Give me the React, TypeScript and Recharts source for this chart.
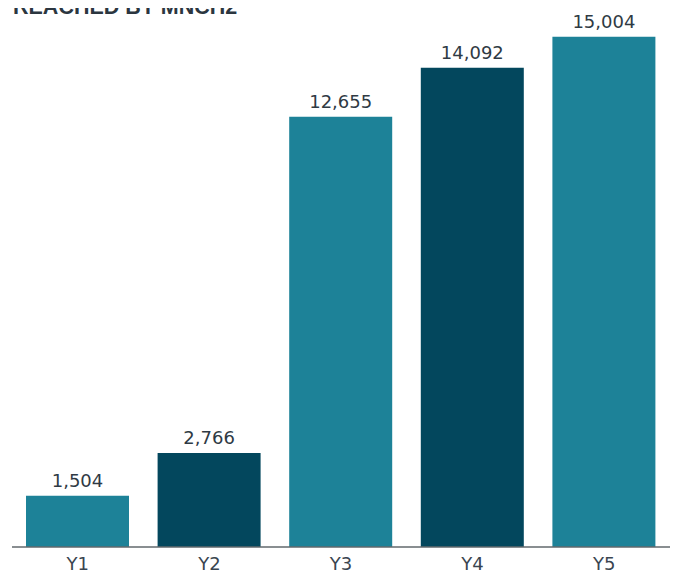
import { BarChart, Bar, XAxis, YAxis, Cell, LabelList } from "recharts";

const years = ["Y1", "Y2", "Y3", "Y4", "Y5"];
const reached = [1504, 2766, 12655, 14092, 15004];
const barColors = ["#1d8298", "#03475d", "#1d8298", "#03475d", "#1d8298"];

const data = years.map((year, i) => ({ year, reached: reached[i] }));

const fmt = (v: number) => v.toLocaleString("en-US");

export default function App() {
  return (
    <div style={{ position: "relative", width: 670, height: 566, background: "#fff" }}>
      {/* title sits partly above the visible page, as in the source */}
      <div
        style={{
          position: "absolute",
          left: 5,
          top: -12,
          fontFamily: "Liberation Sans, Arial, sans-serif",
          fontWeight: 700,
          fontSize: 21.5,
          lineHeight: "22px",
          color: "#2b3640",
          whiteSpace: "nowrap",
        }}
      >
        REACHED BY MNCH2
      </div>
      <BarChart
        width={662}
        height={566}
        data={data}
        margin={{ top: 0, right: 0, bottom: 0, left: 4 }}
        barSize={103}
      >
        <XAxis
          dataKey="year"
          height={27}
          tickLine={false}
          tickMargin={4}
          axisLine={{ stroke: "#62686d", strokeWidth: 1.5 }}
          tick={{ fill: "#3a4550", fontSize: 18, fontFamily: "DejaVu Sans" }}
        />
        <YAxis hide type="number" domain={[0, 15850]} allowDataOverflow />
        <Bar dataKey="reached" isAnimationActive={false}>
          {data.map((d, i) => (
            <Cell key={d.year} fill={barColors[i]} />
          ))}
          <LabelList
            dataKey="reached"
            position="top"
            offset={9}
            formatter={(v: any) => fmt(Number(v))}
            style={{ fill: "#2f3a44", fontSize: 18, fontFamily: "DejaVu Sans" }}
          />
        </Bar>
      </BarChart>
    </div>
  );
}
